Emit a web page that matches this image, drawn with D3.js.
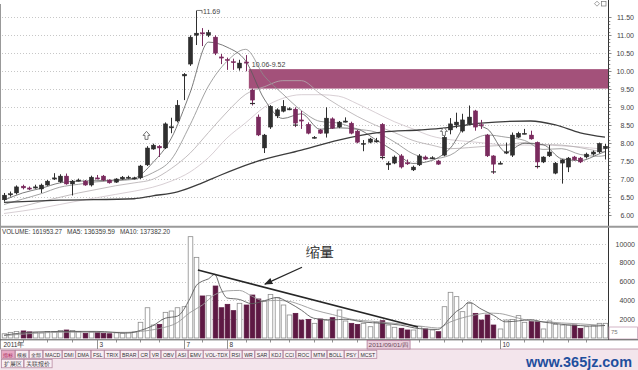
<!DOCTYPE html>
<html><head><meta charset="utf-8">
<script src="https://cdn.jsdelivr.net/npm/d3@7/dist/d3.min.js"></script>
<style>
html,body{margin:0;padding:0;background:#fff;}
svg{display:block;}
text{font-family:"Liberation Sans",Arial,sans-serif;}
</style></head><body>
<svg id="chart" width="638" height="370"></svg>
<script>
// ---------------- data ----------------
const openP  = [6.43,6.58,6.62,6.81,6.76,6.78,6.73,6.84,7.02,6.93,7.09,6.87,6.97,6.95,6.84,7.04,7.09,6.98,6.92,7.01,7.06,7.03,7.04,7.40,7.84,7.92,7.87,8.45,8.62,9.87,10.20,11.00,11.07,11.00,10.95,10.40,10.33,10.27,10.09,10.26,9.48,8.73,7.87,8.45,8.76,8.89,8.95,8.95,8.65,8.53,8.17,8.37,8.28,8.68,8.45,8.62,8.56,8.34,8.00,8.03,8.06,8.53,7.40,7.45,7.65,7.46,7.26,7.40,7.62,7.60,7.51,7.67,8.37,8.51,8.34,8.54,8.90,8.52,8.23,7.65,7.45,7.76,7.67,8.17,8.28,8.23,8.03,7.48,7.65,7.17,7.45,7.34,7.62,7.59,7.62,7.70,7.76,7.85];
const highP  = [6.62,6.66,6.83,6.85,6.80,6.85,6.88,6.98,7.17,7.14,7.16,6.98,7.02,6.98,7.10,7.12,7.12,7.00,7.03,7.09,7.10,7.07,7.40,7.92,7.99,7.95,8.58,8.71,9.20,9.95,11.00,11.69,11.20,11.15,11.00,10.48,10.38,10.35,10.32,10.45,9.52,8.80,8.26,9.06,8.97,9.20,9.00,9.00,8.90,8.58,8.20,8.40,9.00,8.72,8.62,8.72,8.60,8.37,8.09,8.15,8.15,8.56,7.50,7.66,7.70,7.55,7.38,7.70,7.66,7.64,7.54,8.20,8.70,8.85,8.82,9.05,8.93,8.65,8.26,7.67,7.50,8.02,8.30,8.32,8.40,8.35,8.05,7.64,7.95,7.48,7.56,7.62,7.65,7.62,7.74,7.80,8.02,7.98];
const lowP   = [6.38,6.52,6.58,6.72,6.70,6.74,6.62,6.82,6.98,6.90,6.85,6.55,6.94,6.82,6.80,7.00,6.95,6.88,6.90,6.99,7.02,7.00,7.01,7.37,7.82,7.62,7.84,8.28,8.58,9.20,10.15,10.73,10.70,10.95,10.45,10.20,10.04,10.04,10.02,10.00,9.05,8.20,7.73,8.40,8.70,8.86,8.92,8.45,8.40,8.25,8.13,8.26,8.16,8.40,8.42,8.58,8.25,8.00,7.78,8.00,8.02,7.55,7.26,7.42,7.30,7.40,7.23,7.37,7.54,7.56,7.40,7.64,8.25,8.42,8.30,8.50,8.35,8.40,7.62,7.15,7.42,7.70,7.62,8.15,8.25,8.10,7.30,7.45,7.62,7.14,6.88,7.20,7.52,7.45,7.58,7.66,7.72,7.55];
const closeP = [6.56,6.60,6.79,6.76,6.75,6.79,6.84,6.95,7.04,7.09,6.87,6.95,6.98,6.84,7.06,7.03,6.98,6.90,7.01,7.06,7.06,7.04,7.37,7.87,7.95,7.87,8.54,8.46,9.06,9.92,10.95,11.06,11.05,11.08,10.50,10.39,10.31,10.25,10.23,10.25,9.20,8.23,8.23,9.03,8.93,9.03,8.96,8.56,8.64,8.28,8.17,8.28,8.70,8.42,8.59,8.62,8.28,8.03,8.00,8.12,8.07,7.65,7.45,7.62,7.34,7.45,7.34,7.65,7.56,7.60,7.42,8.17,8.54,8.59,8.65,8.73,8.45,8.50,7.65,7.42,7.45,7.76,8.23,8.28,8.28,8.12,7.48,7.62,7.76,7.45,7.54,7.59,7.54,7.48,7.70,7.76,8.00,7.92];
const volume = [450,600,700,750,650,600,550,700,650,800,850,800,700,500,650,600,500,450,550,500,600,650,1670,3220,1380,1450,2730,2870,3220,3330,10780,8580,4470,4500,5530,3220,3580,2910,3690,3510,4570,4150,3870,4640,4290,3510,2450,2620,1910,1980,1560,2020,1900,2160,2980,1810,1560,1450,1560,1200,1670,1840,1380,1140,1030,850,850,1200,960,850,670,3330,4860,4400,2800,3690,2620,1910,2450,1380,960,1910,1980,2380,1670,1740,1740,960,1810,1450,1380,1380,1380,1030,1200,1310,1560,1560];

// moving-average lines (candle index -> value)
const maIdx = [0,3,6,9,12,15,18,21,24,27,30,33,36,39,42,45,48,51,54,57,60,63,66,69,72,75,78,81,84,87,90,93,96,97];
const ma5  = [6.42,6.62,6.75,6.90,6.95,6.96,6.98,7.03,7.46,8.14,9.39,10.81,10.67,10.29,9.23,8.69,8.82,8.39,8.43,8.39,8.10,7.78,7.44,7.52,7.86,8.54,8.40,7.76,8.00,7.96,7.57,7.52,7.70,7.77];
const ma10 = [6.30,6.45,6.60,6.78,6.86,6.93,6.96,7.00,7.18,7.55,8.50,9.59,10.28,10.61,9.87,9.37,8.91,8.61,8.56,8.40,8.31,8.04,7.71,7.57,7.67,8.03,8.23,8.17,8.08,7.83,7.85,7.69,7.64,7.66];
const ma20 = [6.15,6.25,6.38,6.50,6.62,6.72,6.82,6.90,7.00,7.30,7.72,8.30,8.87,9.36,9.57,9.74,9.74,9.38,9.05,8.75,8.50,8.30,8.08,7.95,7.85,7.88,7.92,7.95,8.02,7.97,7.95,7.88,7.78,7.76];
const ma30 = [6.05,6.12,6.20,6.30,6.40,6.49,6.58,6.67,6.78,6.95,7.20,7.60,8.15,8.57,9.00,9.25,9.35,9.35,9.31,9.10,8.85,8.60,8.40,8.20,8.10,8.05,8.00,7.95,7.95,7.95,7.93,7.90,7.85,7.84];
const ma60Idx = [0,9,21,24,28,32,35,40,48,54,61,67,71,77,85,89,93,97];
const ma60    = [6.36,6.42,6.46,6.54,6.65,6.90,7.12,7.45,7.81,8.09,8.31,8.37,8.42,8.56,8.62,8.51,8.29,8.17];

const vma5Idx = [0,5,10,15,20,22,24,26,28,30,31,32,33,34,35,36,38,40,42,44,46,48,50,53,55,58,61,64,67,70,72,73,74,75,77,79,81,83,85,87,89,91,93,95,97];
const vma5    = [300,640,700,700,530,800,1300,2100,2330,4190,5550,6040,6290,6770,5260,4260,4100,3650,3960,4300,3750,2960,2100,1920,2000,1700,1560,1370,1000,906,2134,2822,3212,3816,3084,2410,1720,1820,1950,1700,1540,1390,1320,1260,1330];
const vma10Idx = [0,10,20,22,25,28,30,32,34,36,38,40,42,44,46,48,50,53,56,60,64,68,70,72,74,76,78,80,82,84,86,88,90,93,97];
const vma10    = [250,620,600,700,1000,1650,2700,3500,4600,5010,5060,4460,3950,4000,3900,3500,3000,2500,2000,1750,1500,1200,1060,1700,2150,2450,2650,2600,2300,1950,1770,1700,1600,1500,1330];

const priceTicks = [6,6.5,7,7.5,8,8.5,9,9.5,10,10.5,11,11.5];
const priceTickLabels = ["6.00","6.50","7.00","7.50","8.00","8.50","9.00","9.50","10.00","10.50","11.00","11.50"];
const volTicks = [2000,4000,6000,8000,10000];
const volTickLabels = ["2000","4000","6000","8000","10000"];

const zoneHigh = 10.06, zoneLow = 9.52, zoneStart = 40, zoneLabel = "10.06-9.52";
const peakIdx = 31, peakLabel = "11.69";
const trendIdx = [31.3, 66.8], trendVol = [7230, 1170];
const arrowIdx = [48.1, 42.1], arrowVol = [7530, 5730];
const annotText = "缩量";
const signalIdx = [40,47,61,79,86];
const markerIdx = [23,71], markerPrice = [8.22,8.33];

const monthIdx = [0,15,29,36,80];
const monthLabels = ["2011年","3","7","8","10"];
const weekIdx = [3,7,11,18,22,25,32,39,43,46,50,53,57,64,67,71,74,77,84,87,91,94];
const cursorIdx = 58.6, cursorLabel = "2011/09/01/四";
const tabLabels = ["指标","模板","全部","MACD","DMI","DMA","FSL","TRIX","BRAR","CR","VR","OBV","ASI","EMV","VOL-TDX","RSI","WR","SAR","KDJ","CCI","ROC","MTM","BOLL","PSY","MCST"];
const tab2Labels = ["扩展区","关联报价"];
const volTitle = ["VOLUME: 161953.27","MA5: 136359.59","MA10: 137382.20"];
const volCurrent = "75";

// ---------------- scales ----------------
const svg = d3.select("#chart");
const n = closeP.length;
const x  = d3.scaleLinear().domain([0, n-1]).range([4, 605]);
const y  = d3.scaleLinear().domain([6, 11.5]).range([215.3, 17.3]);
const yv = d3.scaleLinear().domain([0, 10000]).range([338, 244]);
const AX = 608.5;

// ---------------- frames / grids ----------------
svg.append("rect").attr("x",0).attr("y",0).attr("width",638).attr("height",370).attr("fill","#fff");

const grid = svg.append("g").attr("stroke","#b9b9b9").attr("stroke-dasharray","1,2").attr("stroke-width",0.8);
priceTicks.forEach(p=>grid.append("line").attr("x1",2).attr("x2",AX).attr("y1",Math.round(y(p))+0.5).attr("y2",Math.round(y(p))+0.5));
volTicks.forEach(v=>grid.append("line").attr("x1",2).attr("x2",AX).attr("y1",Math.round(yv(v))+0.5).attr("y2",Math.round(yv(v))+0.5));

// resistance zone
svg.append("rect")
  .attr("x", x(zoneStart)-3).attr("y", y(zoneHigh))
  .attr("width", AX - (x(zoneStart)-3)).attr("height", y(zoneLow)-y(zoneHigh))
  .attr("fill","#a3517a");

// ---------------- MA lines ----------------
const line = d3.line().x(d=>x(d[0])).y(d=>y(d[1])).curve(d3.curveMonotoneX);
const maDefs = [[ma30,"#cfc4ca",0.9],[ma20,"#b3adb0",0.9],[ma10,"#8d8d8d",0.9],[ma5,"#5a5a5a",0.9]];
maDefs.forEach(([arr,col,w])=>{
  svg.append("path").datum(maIdx.map((k,j)=>[k,arr[j]])).attr("d",line)
    .attr("fill","none").attr("stroke",col).attr("stroke-width",w).attr("opacity",0.9);
});
svg.append("path").datum(ma60Idx.map((k,j)=>[k,ma60[j]])).attr("d",line)
  .attr("fill","none").attr("stroke","#3c3c3c").attr("stroke-width",1.3);

// ---------------- candles ----------------
const upCol = "#2f2f2f", dnCol = "#7a2b5e";
const cg = svg.append("g");
d3.range(n).forEach(i=>{
  const up = closeP[i] >= openP[i];
  const col = up ? upCol : dnCol;
  const cx = Math.round(x(i))+0.5;
  cg.append("line").attr("x1",cx).attr("x2",cx).attr("y1",y(highP[i])).attr("y2",y(lowP[i]))
    .attr("stroke",col).attr("stroke-width",1);
  const top = y(Math.max(openP[i],closeP[i])), bot = y(Math.min(openP[i],closeP[i]));
  cg.append("rect").attr("x",cx-2.2).attr("y",top).attr("width",4.4).attr("height",Math.max(1.2,bot-top))
    .attr("fill",col).attr("stroke",col).attr("stroke-width",0.4);
});
// small signal crosses at lows
signalIdx.forEach(i=>{
  const cx = Math.round(x(i))+0.5;
  cg.append("line").attr("x1",cx-2.5).attr("x2",cx+2.5).attr("y1",y(lowP[i])-2).attr("y2",y(lowP[i])-2)
    .attr("stroke","#333").attr("stroke-width",1.2);
});
// hollow arrow markers
markerIdx.forEach((i,j)=>{
  const cx = x(i), cy = y(markerPrice[j]);
  svg.append("path").attr("d",`M${cx},${cy-4} L${cx+3.5},${cy} L${cx+1.5},${cy} L${cx+1.5},${cy+4} L${cx-1.5},${cy+4} L${cx-1.5},${cy} L${cx-3.5},${cy} Z`)
    .attr("fill","#fff").attr("stroke","#555").attr("stroke-width",0.8);
});

// peak label
const px = x(peakIdx), py = y(highP[peakIdx]);
svg.append("path").attr("d",`M${px+1},${py} H${px+6} V${py+3}`).attr("fill","none").attr("stroke","#555").attr("stroke-width",0.8);
svg.append("text").attr("x",px+7).attr("y",py+3.5).attr("font-size",7).attr("fill","#444").text(peakLabel);
// zone label
svg.append("text").attr("x",x(zoneStart)).attr("y",y(zoneHigh)-2.5).attr("font-size",7).attr("fill","#444").text(zoneLabel);

// ---------------- right price axis ----------------
svg.append("line").attr("x1",AX).attr("x2",AX).attr("y1",0).attr("y2",340).attr("stroke","#333").attr("stroke-width",1);
d3.range(60,116).forEach(k=>{
  const p = k/10, yy = Math.round(y(p))+0.5;
  svg.append("line").attr("x1",AX).attr("x2",AX+ (k%5===0?3:1.8)).attr("y1",yy).attr("y2",yy).attr("stroke","#555").attr("stroke-width",0.7);
});
priceTicks.forEach((p,j)=>svg.append("text").attr("x",634).attr("y",y(p)+2.5).attr("text-anchor","end")
  .attr("font-size",7).attr("fill","#444").text(priceTickLabels[j]));
// top icons
svg.append("path").attr("d","M597,1.2 L599.5,3.7 L597,6.2 L594.5,3.7 Z").attr("fill","none").attr("stroke","#777").attr("stroke-width",0.7);
svg.append("rect").attr("x",601.5).attr("y",1.5).attr("width",4.5).attr("height",4.5).attr("fill","none").attr("stroke","#777").attr("stroke-width",0.7);

// ---------------- panel separators ----------------
svg.append("line").attr("x1",0).attr("x2",638).attr("y1",226.8).attr("y2",226.8).attr("stroke","#9a9a9a").attr("stroke-width",2);
svg.append("line").attr("x1",0.5).attr("x2",0.5).attr("y1",4).attr("y2",349).attr("stroke","#999").attr("stroke-width",1);

// ---------------- volume ----------------
const vg = svg.append("g");
d3.range(n).forEach(i=>{
  const up = closeP[i] >= openP[i];
  const cx = Math.round(x(i))+0.5;
  vg.append("rect").attr("x",cx-2.3).attr("y",yv(volume[i])).attr("width",4.6).attr("height",yv(0)-yv(volume[i]))
    .attr("fill", up ? "#fff" : "#5e1944").attr("stroke", up ? "#8c8c8c" : "#5e1944").attr("stroke-width",0.8);
});
const vline = d3.line().x(d=>x(d[0])).y(d=>yv(d[1])).curve(d3.curveMonotoneX);
svg.append("path").datum(vma10Idx.map((k,j)=>[k,vma10[j]])).attr("d",vline).attr("fill","none").attr("stroke","#9a9a9a").attr("stroke-width",0.9);
svg.append("path").datum(vma5Idx.map((k,j)=>[k,vma5[j]])).attr("d",vline).attr("fill","none").attr("stroke","#5d5d5d").attr("stroke-width",0.9);

// trend line + arrow + text
svg.append("line").attr("x1",x(trendIdx[0])).attr("y1",yv(trendVol[0])).attr("x2",x(trendIdx[1])).attr("y2",yv(trendVol[1]))
  .attr("stroke","#262626").attr("stroke-width",1.7);
svg.append("defs").append("marker").attr("id","ah").attr("viewBox","0 0 10 10").attr("refX",9).attr("refY",5)
  .attr("markerWidth",7).attr("markerHeight",7).attr("orient","auto")
  .append("path").attr("d","M0,1 L10,5 L0,9 Z").attr("fill","#262626");
svg.append("line").attr("x1",x(arrowIdx[0])).attr("y1",yv(arrowVol[0])).attr("x2",x(arrowIdx[1])).attr("y2",yv(arrowVol[1]))
  .attr("stroke","#262626").attr("stroke-width",1.2).attr("marker-end","url(#ah)");
svg.append("text").attr("x",x(arrowIdx[0])+4).attr("y",yv(arrowVol[0])-10).attr("font-size",14)
  .attr("font-family","'Noto Sans CJK SC',sans-serif").attr("fill","#1e1e1e").text(annotText);

// volume title
const vtX = [2,67,120], vtW = [60,48,50];
volTitle.forEach((t,j)=>svg.append("text").attr("x",vtX[j]).attr("y",233.5).attr("font-size",6.5)
  .attr("textLength",vtW[j]).attr("lengthAdjust","spacingAndGlyphs").attr("fill","#3a3a3a").text(t));

// volume axis labels
volTicks.forEach((v,j)=>svg.append("text").attr("x",635).attr("y",yv(v)+2.5).attr("text-anchor","end")
  .attr("font-size",7).attr("fill","#444").text(volTickLabels[j]));
svg.append("rect").attr("x",609).attr("y",327).attr("width",28.5).attr("height",12).attr("fill","none").attr("stroke","#c9a3b8").attr("stroke-width",0.8);
svg.append("text").attr("x",611).attr("y",334).attr("font-size",6).attr("fill","#777").text(volCurrent);
svg.append("line").attr("x1",0).attr("x2",638).attr("y1",339.8).attr("y2",339.8).attr("stroke","#555").attr("stroke-width",1);

// ---------------- date row ----------------
svg.append("rect").attr("x",0).attr("y",349).attr("width",638).attr("height",21).attr("fill","#f3e5ec");
svg.append("line").attr("x1",0).attr("x2",638).attr("y1",349).attr("y2",349).attr("stroke","#b48aa0").attr("stroke-width",0.8);
weekIdx.forEach(i=>svg.append("line").attr("x1",Math.round(x(i))+0.5).attr("x2",Math.round(x(i))+0.5).attr("y1",340).attr("y2",342.5).attr("stroke","#666").attr("stroke-width",0.7));
monthIdx.forEach((i,j)=>{
  const mx = Math.round(x(i))+0.5 - (j===0?3:0);
  if(j>0) svg.append("line").attr("x1",mx).attr("x2",mx).attr("y1",340).attr("y2",349).attr("stroke","#777").attr("stroke-width",0.8);
  svg.append("text").attr("x",mx+2).attr("y",347).attr("font-size",6.5).attr("fill","#333")
    .attr("font-family","'Noto Sans CJK SC','Liberation Sans',sans-serif").text(monthLabels[j]);
});
const cxl = x(cursorIdx);
svg.append("rect").attr("x",cxl).attr("y",340.5).attr("width",43).attr("height",8.5).attr("fill","#ead0dd").attr("stroke","#a86d8c").attr("stroke-width",0.7);
svg.append("text").attr("x",cxl+1.5).attr("y",347.3).attr("font-size",6).attr("textLength",40).attr("lengthAdjust","spacingAndGlyphs")
  .attr("font-family","'Noto Sans CJK SC','Liberation Sans',sans-serif").attr("fill","#6a4a5a").text(cursorLabel);

// ---------------- tabs ----------------
function tabRow(labels, y0, h, fs, startX, pad, gap){
  let tx = startX;
  labels.forEach((t,k)=>{
    const g = svg.append("g");
    const txt = g.append("text").attr("y",y0+h-1.8).attr("font-size",fs)
      .attr("font-family","'Liberation Sans','Noto Sans CJK SC',sans-serif")
      .attr("fill", (labels===tabLabels && k===0) ? "#a3164e" : "#333").text(t);
    const w = txt.node().getComputedTextLength() + pad;
    g.insert("rect","text").attr("x",tx).attr("y",y0).attr("width",w).attr("height",h)
      .attr("fill",(labels===tabLabels && k===0) ? "#e7a9c4" : "#f8eef3").attr("stroke","#b07f98").attr("stroke-width",0.7);
    txt.attr("x",tx+pad/2);
    tx += w + gap;
  });
}
tabRow(tabLabels, 350.3, 8, 5.2, 1.5, 3.4, 0.5);
tabRow(tab2Labels, 359.3, 8.5, 6.2, 1.5, 4, 0.6);

// watermark
svg.append("text").attr("x",526).attr("y",367).attr("font-size",15).attr("font-weight","bold")
  .attr("font-family","'Liberation Serif',serif").attr("fill","#1f4f9e")
  .attr("textLength",106).attr("lengthAdjust","spacingAndGlyphs").text("www.365jz.com");
</script>
</body></html>
